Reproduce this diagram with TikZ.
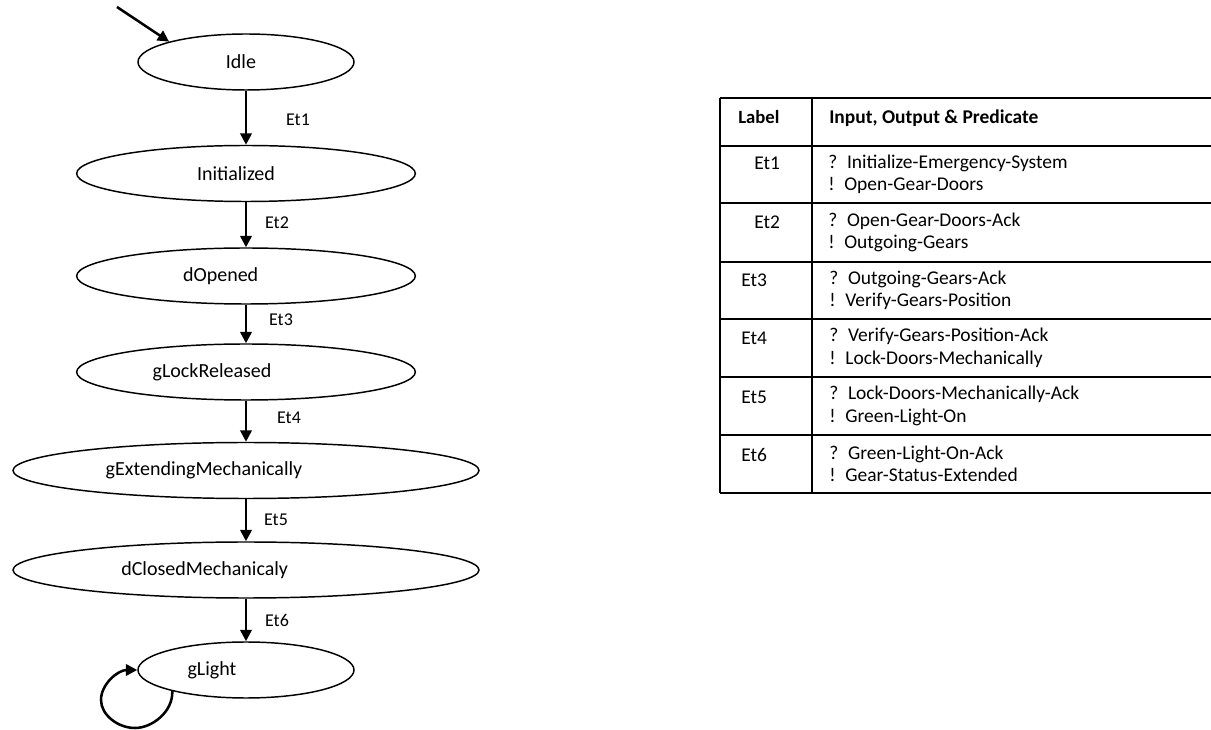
\documentclass[tikz,border=0pt]{standalone}
\usepackage{fontspec}
\setmainfont{Carlito}
\usetikzlibrary{shapes.geometric, arrows.meta}
\tikzstyle{state} = [
    ellipse,
    draw=black,
    line width=1.1pt,
    inner sep=0pt,
    minimum height=42pt
]
\tikzstyle{statelabel} = [
    font=\fontsize{15}{18}\selectfont
]
\tikzstyle{elabel} = [
    font=\fontsize{13.5}{16}\selectfont
]
\tikzstyle{cell} = [
    anchor=west,
    inner sep=0pt,
    align=left,
    font=\fontsize{14.6}{16.9}\selectfont
]
\tikzstyle{tline} = [line width=1.5pt]
\tikzstyle{arrow} = [line width=1.9pt, -{Triangle[length=8.5pt, width=8.5pt]}]

\begin{document}
\begin{tikzpicture}[x=0.75pt, y=-0.75pt, every label/.style={statelabel}]
\useasboundingbox (0,0) rectangle (1211,730);

% states
\node (idle) [state, minimum width=162pt,
    label={[name=idle-t, xshift=-3.75pt]center:Idle}] at (246,62) {};
\node (init) [state, minimum width=254pt,
    label={[name=init-t, xshift=-7.5pt]center:Initialized}] at (246,173.5) {};
\node (dopen) [state, minimum width=254pt,
    label={[name=dopen-t, xshift=-19pt]center:dOpened}] at (246,276) {};
\node (glock) [state, minimum width=254pt,
    label={[name=glock-t, xshift=-25.5pt]center:gLockReleased}] at (246,372) {};
\node (gext) [state, minimum width=349.5pt,
    label={[name=gext-t, xshift=-31.5pt]center:gExtendingMechanically}] at (246,470.5) {};
\node (dclose) [state, minimum width=349.5pt,
    label={[name=dclose-t, xshift=-31pt]center:dClosedMechanicaly}] at (246,570) {};
\node (glight) [state, minimum width=162pt,
    label={[name=glight-t, xshift=-25.5pt]center:gLight}] at (246,670) {};

% transition labels
\node (et1) [elabel] at (298,120) {Et1};
\node (et2) [elabel] at (277,223) {Et2};
\node (et3) [elabel] at (281,320) {Et3};
\node (et4) [elabel] at (289,418) {Et4};
\node (et5) [elabel] at (276,520) {Et5};
\node (et6) [elabel] at (277,620) {Et6};

% transitions
\coordinate (start) at (117,7);
\draw [arrow] (start) -- (idle.north west);
\draw [arrow] (idle) -- (init);
\draw [arrow] (init) -- (dopen);
\draw [arrow] (dopen) -- (glock);
\draw [arrow] (glock) -- (gext);
\draw [arrow] (gext) -- (dclose);
\draw [arrow] (dclose) -- (glight);
\draw [arrow] (glight.196) .. controls (173,712) and (152,728) .. (135,728)
    .. controls (118,728) and (101,715) .. (101,700)
    .. controls (101,684) and (118,670) .. (glight.west);

% table
\foreach \y in {98,146,203,262,319,377,435,493}
    \draw [tline] (720,\y) -- (1211,\y);
\draw [tline] (720,98) -- (720,493);
\draw [tline] (812,98) -- (812,493);

\node (h-label) [cell, font=\fontsize{14}{16.9}\selectfont\bfseries] at (738,117) {Label};
\node (h-io) [cell, font=\fontsize{14.6}{16.9}\selectfont\bfseries] at (829,118) {Input, Output \& Predicate};

\node (r1-label) [cell] at (754,163) {Et1};
\node (r1-io) [cell] at (828,174.5) {?\enspace Initialize-Emergency-System\\!\enspace Open-Gear-Doors};
\node (r2-label) [cell] at (754,222) {Et2};
\node (r2-io) [cell] at (828,232.5) {?\enspace Open-Gear-Doors-Ack\\!\enspace Outgoing-Gears};
\node (r3-label) [cell] at (741,280) {Et3};
\node (r3-io) [cell] at (829,290.5) {?\enspace Outgoing-Gears-Ack\\!\enspace Verify-Gears-Position};
\node (r4-label) [cell] at (741,338) {Et4};
\node (r4-io) [cell] at (829,348) {?\enspace Verify-Gears-Position-Ack\\!\enspace Lock-Doors-Mechanically};
\node (r5-label) [cell] at (741,397) {Et5};
\node (r5-io) [cell] at (829,406) {?\enspace Lock-Doors-Mechanically-Ack\\!\enspace Green-Light-On};
\node (r6-label) [cell] at (741,455) {Et6};
\node (r6-io) [cell] at (829,464) {?\enspace Green-Light-On-Ack\\!\enspace Gear-Status-Extended};

\end{tikzpicture}
\end{document}
